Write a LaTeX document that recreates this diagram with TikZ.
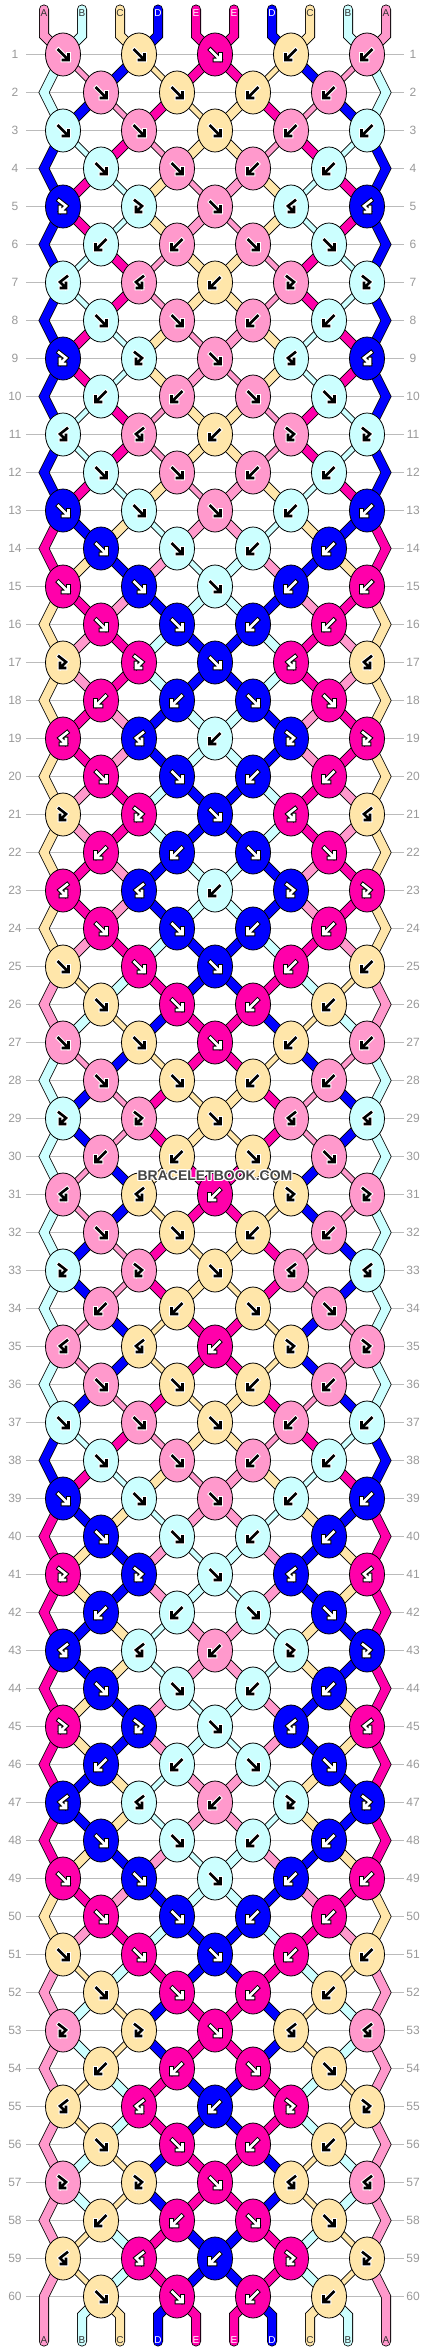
\documentclass[tikz,border=0pt]{standalone}
\usepackage{fontspec}
\setmainfont{Liberation Sans}
\usetikzlibrary{shapes.geometric}
\definecolor{colA}{HTML}{FF99CC}
\definecolor{colB}{HTML}{CCFFFF}
\definecolor{colC}{HTML}{FFE6AA}
\definecolor{colD}{HTML}{0000FF}
\definecolor{colE}{HTML}{FF00AA}
\definecolor{rowgray}{HTML}{BBBBBB}
\definecolor{numgray}{HTML}{999999}
\definecolor{topgray}{HTML}{333333}
\definecolor{logogray}{HTML}{444444}
\expandafter\def\csname dkA\endcsname{0}
\expandafter\def\csname dkB\endcsname{0}
\expandafter\def\csname dkC\endcsname{0}
\expandafter\def\csname dkD\endcsname{1}
\expandafter\def\csname dkE\endcsname{1}
% arrow shapes: 1 forward, 2 backward, 3 forward-backward, 4 backward-forward
\expandafter\def\csname arrshape1\endcsname{(-4.5,-4.5) -- (5,5) (0,5.5) -- (5.5,5.5) -- (5.5,0)}
\expandafter\def\csname arrshape2\endcsname{(4.5,-4.5) -- (-5,5) (0,5.5) -- (-5.5,5.5) -- (-5.5,0)}
\expandafter\def\csname arrshape3\endcsname{(-4,-6) -- (3,-0.5) -- (-2.5,5) (-3,0.5) -- (-3,5.5) -- (2,5.5)}
\expandafter\def\csname arrshape4\endcsname{(4,-6) -- (-3,-0.5) -- (2.5,5) (3,0.5) -- (3,5.5) -- (-2,5.5)}
\gdef\bbknots{}
\newcommand\BBSeg[4]{% position, colour letter, target node, string is top here
  \def\sst{segwide}%
  \ifnum\csname bbed#1\endcsname=0
    \ifnum\csname dk#2\endcsname=0
      \ifnum\csname bbtp#1\endcsname=1
        \ifnum#4=1 \def\sst{segthin}\fi
      \fi
    \fi
  \fi
  \edef\tmp{\noexpand\draw[\sst,double=col#2] \csname bblp#1\endcsname\space -- (#3.center);}%
  \tmp
}
\newcommand\BBDrawKnot[3]{% node, colour letter, type
  \draw[knotline, fill=col#2] (#1.center) ellipse [x radius=17.5, y radius=21.5];
  \ifnum\csname dk#2\endcsname=1 \def\acol{white}\def\hcol{black}\else\def\acol{black}\def\hcol{white}\fi
  \edef\tmp{\noexpand\draw[arrhalo,draw=\hcol,shift={(#1.center)}] \csname arrshape#3\endcsname;}\tmp
  \edef\tmp{\noexpand\draw[arrmain,draw=\acol,shift={(#1.center)}] \csname arrshape#3\endcsname;}\tmp
}
\newcommand\BBKnot[4]{% row, knot index, left position, type
  \edef\pL{#3}%
  \edef\pR{\the\numexpr#3+1\relax}%
  \edef\cL{\csname bbst\pL\endcsname}%
  \edef\cR{\csname bbst\pR\endcsname}%
  \ifodd#4 \edef\cT{\cL}\def\tl{1}\def\tr{0}\else\edef\cT{\cR}\def\tl{0}\def\tr{1}\fi
  \edef\nl{\ifcase#4\or0\or1\or1\or0\fi}%
  \edef\nr{\ifcase#4\or1\or0\or0\or1\fi}%
  \pgfmathsetmacro\kx{63+38*(#3-1)}%
  \node[knotshape] (k#1-#2) at (\kx,\y) {};
  \xdef\bbknots{\unexpanded\expandafter{\bbknots}\noexpand\BBDrawKnot{k#1-#2}{\cT}{#4}}%
  \BBSeg{\pL}{\cL}{k#1-#2}{\tl}%
  \BBSeg{\pR}{\cR}{k#1-#2}{\tr}%
  \ifnum#4<3
    \expandafter\xdef\csname bbst\pL\endcsname{\cR}%
    \expandafter\xdef\csname bbst\pR\endcsname{\cL}%
  \fi
  \expandafter\xdef\csname bblp\pL\endcsname{(k#1-#2.center)}%
  \expandafter\xdef\csname bblp\pR\endcsname{(k#1-#2.center)}%
  \expandafter\xdef\csname bbed\pL\endcsname{0}%
  \expandafter\xdef\csname bbed\pR\endcsname{0}%
  \expandafter\xdef\csname bbtp\pL\endcsname{\nl}%
  \expandafter\xdef\csname bbtp\pR\endcsname{\nr}%
}
\newcommand\BBEdge[3]{% row, position, x
  \coordinate (e#1-#2) at (#3,\y);
  \expandafter\xdef\csname bblp#2\endcsname{\csname bblp#2\endcsname\space -- (e#1-#2)}%
  \expandafter\xdef\csname bbed#2\endcsname{1}%
}
\begin{document}
\begin{tikzpicture}[x=1pt,y=-1pt,
  knotshape/.style={ellipse, minimum width=35pt, minimum height=43pt, inner sep=0pt},
  knotline/.style={draw=black, line width=0.8pt},
  segwide/.style={draw=black, line width=0.8pt, double distance=8.4pt, line cap=round, line join=miter},
  segthin/.style={draw=black, line width=0.8pt, double distance=4.9pt, line cap=round, line join=miter},
  arrhalo/.style={line width=4.6pt, line cap=rect, line join=miter},
  arrmain/.style={line width=2.6pt, line cap=rect, line join=miter},
  rowline/.style={draw=rowgray, line width=1pt},
  rowlab/.style={text=numgray, font=\fontsize{12}{12}\selectfont, inner sep=0pt},
  toplab/.style={font=\fontsize{10}{10}\selectfont, inner sep=0pt},
  logo/.style={font=\bfseries\fontsize{14}{14}\selectfont, inner sep=0pt}]
\useasboundingbox (0,0) rectangle (430,2352);
\fill[white] (0,0) rectangle (430,2352);
% row lines and numbers
\foreach \rw in {1,...,60}{
  \pgfmathsetmacro\y{54.5+38*(\rw-1)}
  \coordinate (rl-\rw) at (26,\y);
  \coordinate (rr-\rw) at (404,\y);
  \draw[rowline] (rl-\rw) -- (rr-\rw);
  \node[rowlab] (ln-\rw) at (15,\y) {\rw};
  \node[rowlab] (rn-\rw) at (413,\y) {\rw};
}
% initial strings
\foreach \q/\lt in {1/A,2/B,3/C,4/D,5/E,6/E,7/D,8/C,9/B,10/A}{
  \pgfmathsetmacro\sx{44+38*(\q-1)}
  \coordinate (top-\q) at (\sx,9.5);
  \coordinate (tb-\q) at (\sx,35.5);
  \expandafter\xdef\csname bbst\q\endcsname{\lt}
  \expandafter\xdef\csname bblp\q\endcsname{(top-\q) -- (tb-\q)}
  \expandafter\xdef\csname bbed\q\endcsname{1}
  \expandafter\xdef\csname bbtp\q\endcsname{0}
}
% rows
\foreach \rw in {1,...,60}{
  \pgfmathsetmacro\y{54.5+38*(\rw-1)}
  \pgfmathtruncatemacro\m{mod(\rw-1,12)+1}
  \pgfmathtruncatemacro\isodd{mod(\rw,2)}
  \edef\tT{\ifcase\m\or1\or1\or1\or1\or3\or2\or4\or1\or3\or2\or4\or1\fi}
  \edef\tC{\ifcase\m\or1\or0\or1\or0\or1\or0\or2\or0\or1\or0\or2\or0\fi}
  \edef\tM{\ifcase\tT\or2\or1\or4\or3\fi}
  \ifnum\isodd=1
    \BBKnot{\rw}{1}{1}{\tT}\BBKnot{\rw}{2}{3}{\tT}\BBKnot{\rw}{3}{5}{\tC}\BBKnot{\rw}{4}{7}{\tM}\BBKnot{\rw}{5}{9}{\tM}
  \else
    \BBEdge{\rw}{1}{44}\BBKnot{\rw}{1}{2}{\tT}\BBKnot{\rw}{2}{4}{\tT}\BBKnot{\rw}{3}{6}{\tM}\BBKnot{\rw}{4}{8}{\tM}\BBEdge{\rw}{10}{386}
  \fi
}
% string ends
\foreach \q in {1,...,10}{
  \pgfmathsetmacro\sx{44+38*(\q-1)}
  \coordinate (bot-\q) at (\sx,2341.5);
  \coordinate (bm-\q) at (\sx,2315.5);
  \edef\lt{\csname bbst\q\endcsname}
  \ifnum\q=1 \edef\tail{-- (bot-\q)}\else\ifnum\q=10 \edef\tail{-- (bot-\q)}\else\edef\tail{-- (bm-\q) -- (bot-\q)}\fi\fi
  \edef\tmp{\noexpand\draw[segwide,double=col\lt] \csname bblp\q\endcsname\space\tail;}
  \tmp
}
% knots on top of the strings
\bbknots
% letters
\foreach \q/\lt in {1/A,2/B,3/C,4/D,5/E,6/E,7/D,8/C,9/B,10/A}{
  \pgfmathsetmacro\sx{44+38*(\q-1)}
  \edef\lc{\ifnum\csname dk\lt\endcsname=1 white\else topgray\fi}
  \node[toplab,text=\lc] (tl-\q) at (\sx,13) {\lt};
  \node[toplab,text=\lc] (bl-\q) at (\sx,2340) {\lt};
}
% logo
\foreach \dx/\dy/\i in {-1/0/1,1/0/2,0/-1/3,0/1/4,-1/-1/5,1/1/6,-1/1/7,1/-1/8}{
  \node[logo,text=white] (logoh-\i) at (215+\dx,1175.5+\dy) {BRACELETBOOK.COM};
}
\node[logo,text=logogray] (logo) at (215,1175.5) {BRACELETBOOK.COM};
\end{tikzpicture}
\end{document}
